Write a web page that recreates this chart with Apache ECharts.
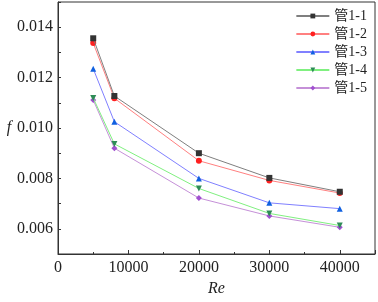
<!DOCTYPE html>
<html>
<head>
<meta charset="utf-8">
<script src="https://cdn.jsdelivr.net/npm/echarts@6/dist/echarts.min.js"></script>
<style>
html,body{margin:0;padding:0;background:#fff;}
#chart{width:378px;height:302px;}
</style>
</head>
<body>
<div id="chart"></div>
<script>
// Re 数据点
var reList = [5000, 8000, 20000, 30000, 40000];
var names = ['管1-1', '管1-2', '管1-3', '管1-4', '管1-5'];
var f11 = [0.01356, 0.01127, 0.00900, 0.00802, 0.00747];
var f12 = [0.01337, 0.01118, 0.00870, 0.00792, 0.00742];
var f13 = [0.01235, 0.01025, 0.00800, 0.00703, 0.00680];
var f14 = [0.01119, 0.00937, 0.00760, 0.00661, 0.00613];
var f15 = [0.01111, 0.00920, 0.00722, 0.00651, 0.00606];
var yLabels = ['0.006', '0.008', '0.010', '0.012', '0.014'];

var lineColors = ['#7f7f7f', '#ff8080', '#8080ff', '#80f080', '#c590d8'];
var markColors = ['#333333', '#ff2020', '#1060e0', '#2e8b57', '#a050d0'];
var symbols = ['rect', 'circle', 'triangle', 'path://M0,0 L10,0 L5,9 Z', 'diamond'];
var allData = [f11, f12, f13, f14, f15];

function pairs(ys) {
	var arr = [];
	for (let i = 0; i < reList.length; i++) {
		arr.push([reList[i], ys[i]]);
	}
	return arr;
}

var series = [];
for (let i = 0; i < names.length; i++) {
	series.push({
		name: names[i],
		type: 'line',
		data: pairs(allData[i]),
		symbol: symbols[i],
		symbolSize: 6,
		lineStyle: { color: lineColors[i], width: 1 },
		itemStyle: { color: markColors[i] },
		z: 10 - i
	});
}

var myChart = echarts.init(document.getElementById('chart'));
var option = {
	backgroundColor: '#fff',
	animation: false,
	grid: {
		left: 58, right: 3, top: 2, bottom: 43,
		show: true, borderColor: '#333', borderWidth: 1
	},
	legend: {
		orient: 'vertical',
		right: 6,
		top: 4,
		itemWidth: 33,
		itemHeight: 6,
		itemGap: 4,
		data: names,
		textStyle: { fontFamily: 'Liberation Serif, Noto Sans CJK SC', fontSize: 14, color: '#222' }
	},
	xAxis: {
		type: 'value',
		min: 0, max: 45000, interval: 10000,
		name: 'Re',
		nameLocation: 'middle',
		nameGap: 27,
		nameTextStyle: { fontFamily: 'Liberation Serif', fontStyle: 'italic', fontSize: 16, color: '#222' },
		axisLine: { lineStyle: { color: '#333' } },
		axisTick: { inside: true, length: 4, lineStyle: { color: '#333' } },
		minorTick: { show: true, splitNumber: 2, length: 2, lineStyle: { color: '#333' } },
		axisLabel: {
			fontFamily: 'Liberation Serif', fontSize: 16, color: '#222', margin: 6,
			showMaxLabel: false,
			formatter: function (v) { return String(v); }
		},
		splitLine: { show: false }
	},
	yAxis: {
		type: 'value',
		min: 0.005, max: 0.015, interval: 0.001,
		name: 'f',
		nameLocation: 'middle',
		nameGap: 46,
		nameRotate: 0,
		nameTextStyle: { fontFamily: 'Liberation Serif', fontStyle: 'italic', fontSize: 16, color: '#222' },
		axisLine: { lineStyle: { color: '#333' } },
		axisTick: { inside: true, length: 3, lineStyle: { color: '#333' } },
		axisLabel: {
			fontFamily: 'Liberation Serif', fontSize: 16, color: '#222', margin: 5,
			formatter: function (v) {
				var s = v.toFixed(3);
				return yLabels.indexOf(s) >= 0 ? s : '';
			}
		},
		splitLine: { show: false }
	},
	series: series
};
myChart.setOption(option);
</script>
</body>
</html>
